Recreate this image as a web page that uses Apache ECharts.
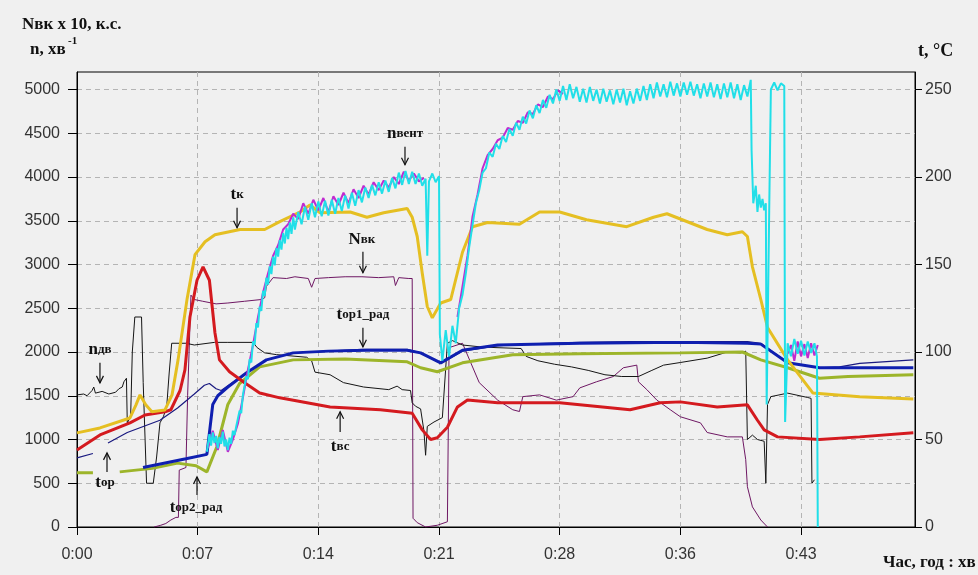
<!DOCTYPE html>
<html><head><meta charset="utf-8">
<script src="https://cdn.jsdelivr.net/npm/echarts@6/dist/echarts.min.js"></script>
<style>html,body{margin:0;padding:0;background:#f0f0f0}#c{width:978px;height:575px}</style>
</head><body><div id="c"></div>
<script>
// ---- axis ticks ----
const timeTicks = [0, 7.2, 14.4, 21.6, 28.8, 36, 43.2];
const timeTickLabels = ['0:00', '0:07', '0:14', '0:21', '0:28', '0:36', '0:43'];
const leftTicks = [0, 500, 1000, 1500, 2000, 2500, 3000, 3500, 4000, 4500, 5000];
const rightTicks = [0, 50, 100, 150, 200, 250];

// ---- series data: [minutes, value] ----
// tк (°C, right axis)
const tK = [[0,53.8],[1.37,56.6],[3.16,62.3],[3.52,69.8],[3.76,75.5],[4.1,69.8],[4.47,65.8],[5.25,66.9],[5.67,75.5],[6.03,95.5],[6.56,129.8],[7.04,155.6],[7.64,163],[8.23,167],[9.73,170],[11.2,170],[12.1,174.5],[13.3,180],[13.9,184],[14.5,179.6],[16.3,180],[17.3,177],[18.3,179.6],[19.7,182],[20.0,177],[20.3,166],[20.6,145],[20.9,126],[21.2,119.5],[21.7,128],[22.3,130],[23.0,157],[23.6,171.6],[24.5,174],[26.4,173],[27.6,180],[28.8,180],[30.4,175.6],[32.8,171.6],[34.4,177],[35.2,179],[37.6,170],[38.8,167],[39.7,168.7],[40.0,166],[40.3,148.7],[40.8,130],[41.2,114],[42.4,95.5],[43.9,76.6],[46.7,74.4],[49.9,73.2]];
// tвс (°C)
const tVs = [[0,44],[1.37,52.6],[3.16,59.5],[4.06,64],[5.25,65.8],[5.6,67],[6.15,78],[6.44,89.8],[6.74,120],[7.16,141],[7.52,148.7],[7.9,141],[8.23,111],[8.5,95.5],[9.1,88.7],[10.0,82.4],[10.9,76.6],[12.1,73.8],[15.1,68.6],[18.1,67],[20.0,65],[20.6,55.5],[21.1,50],[21.5,51],[22.1,57],[22.7,68.6],[23.3,72.6],[25.1,71],[28.8,71],[33,67],[34.8,71],[36,71.5],[38.2,68.6],[40,69.8],[40.6,61],[41,55.5],[41.8,51.5],[44.3,50],[46.7,51.5],[49.9,53.8]];
// tор (°C, thin)
const tOr = [[0,39.5],[0.95,42],[1.0,'-'],[1.85,48],[3.0,54],[4.95,61],[6.0,68],[7.0,76],[7.6,81],[7.9,82],[8.3,79],[8.6,78],[9.2,82],[10.1,88],[11.3,95.5],[12.9,99.5],[17,101.5],[19.7,101.5],[20.5,99.5],[21.7,93.5],[23,100.5],[25,103.5],[26.6,104.5],[30,105.5],[33,106],[36,106],[40,106],[40.8,105],[42.4,94],[44.3,91],[45.5,91.5],[46.7,93.5],[49.9,95.5]];
// tор1_рад (°C, thick blue)
const tOr1 = [[3.94,34],[6.5,39],[7.75,41.5],[8.1,70],[8.4,75],[9.0,80],[10.1,88],[11.3,95.5],[12.9,99.5],[15,100.5],[17.3,101],[19.7,101],[20.5,99.5],[21.7,93.8],[23,101],[25.1,104],[30,105],[36,105.5],[40,105],[40.8,104.5],[42.4,93.8],[44.3,91],[49.9,91]];
// tор2_рад (°C, olive)
const tOr2 = [[0,31],[0.95,31],[1.0,'-'],[2.55,31.5],[4.5,33.5],[6.0,36.5],[7.1,35],[7.75,31.5],[8.35,46],[9.0,70],[9.7,82],[10.9,91.5],[12.9,95.5],[16,96],[19.7,94.4],[20.5,91],[21.5,88.7],[23,93.8],[26,98.4],[30,99],[36,99.5],[39.7,100],[40.8,95.5],[42.4,91],[44.3,85],[46,86],[49.9,87]];
// nдв (rpm, left axis, thin black)
const nDv = [[0,1510],[0.4,1520],[0.6,1500],[0.9,1560],[1.0,1600],[1.1,1530],[1.5,1550],[1.9,1520],[2.3,1540],[2.5,1580],[2.7,1600],[2.8,1660],[2.95,1700],[3.0,1190],[3.2,1260],[3.3,2000],[3.45,2400],[3.85,2400],[3.95,1650],[4.15,500],[4.55,500],[4.75,800],[4.95,1190],[5.15,1260],[5.35,1370],[5.5,1760],[5.65,2100],[6.5,2100],[7.0,2080],[8.2,2110],[9.0,2110],[10.5,2110],[10.75,2050],[11.2,1990],[11.9,1970],[13.7,1940],[14.0,1900],[14.2,1770],[15.1,1740],[15.9,1650],[17.1,1600],[18.6,1570],[19.1,1610],[19.4,1570],[19.9,1560],[20.0,1420],[20.2,1380],[20.5,1350],[20.7,1100],[20.8,820],[20.9,1150],[21.3,1200],[21.8,1250],[22.1,2100],[22.4,2130],[23,2080],[24,2060],[25,2050],[26.5,2040],[26.8,1950],[27.5,1900],[28.5,1860],[29.5,1830],[30.5,1790],[31.5,1740],[32.5,1720],[33.5,1720],[34.3,1790],[35,1850],[36,1880],[37.6,1930],[38.8,2000],[39.6,1990],[39.9,2010],[40.0,1000],[40.3,1050],[40.6,1000],[41.0,980],[41.1,500],[41.2,1400],[41.4,1490],[42.4,1530],[43.6,1480],[43.8,1470],[43.85,500],[44.0,540]];
// Nвк x10 (left axis, thin purple)
const nVk = [[4.6,0],[5.0,20],[5.3,40],[5.6,80],[5.9,110],[6.05,110],[6.1,650],[6.5,680],[6.6,1500],[6.8,2650],[7.0,2600],[7.5,2580],[8.3,2550],[9.0,2560],[10.0,2580],[11.0,2600],[11.2,2620],[11.3,2750],[11.7,2850],[12.5,2840],[13.0,2860],[13.8,2840],[14.0,2740],[14.2,2840],[15.0,2850],[16.0,2860],[17.0,2860],[18.0,2850],[18.9,2860],[19.0,2760],[19.2,2850],[19.8,2840],[20.0,2840],[20.05,100],[20.3,50],[20.8,0],[21.5,20],[22.1,60],[22.2,2050],[23.0,2100],[24.0,1650],[25.1,1450],[26.0,1340],[26.4,1320],[26.6,1490],[27.6,1510],[28.6,1450],[29.6,1490],[30.0,1590],[31.0,1660],[32.0,1720],[32.6,1820],[33.4,1850],[33.5,1660],[34.0,1570],[34.6,1450],[35.4,1340],[36.0,1260],[37.2,1190],[37.6,1080],[38.8,1030],[39.7,1030],[39.9,770],[40.0,460],[40.3,230],[40.8,80],[41.2,0]];
// nвент (rpm, left axis, cyan noisy)
const nVent = [[7.75,860],[7.9,1060],[8.0,930],[8.1,1080],[8.2,960],[8.3,1040],[8.4,900],[8.5,1030],[8.6,950],[8.7,1090],[8.8,920],[8.9,1000],[9.0,880],[9.1,1020],[9.2,950],[9.3,1100],[9.4,1050],[9.5,1150],[9.6,1130],[9.7,1330],[9.8,1300],[9.9,1510],[10.0,1490],[10.1,1720],[10.2,1690],[10.3,1920],[10.4,1880],[10.5,2120],[10.6,2080],[10.7,2330],[10.8,2280],[10.9,2520],[11.0,2470],[11.1,2700],[11.2,2640],[11.3,2850],[11.4,2770],[11.5,2980],[11.6,2890],[11.7,3090],[11.8,2990],[11.9,3190],[12.0,3090],[12.1,3280],[12.2,3170],[12.3,3360],[12.4,3240],[12.5,3420],[12.6,3290],[12.7,3480],[12.8,3350],[12.9,3540],[13.0,3400],[13.2,3600],[13.4,3460],[13.6,3660],[13.8,3510],[14.0,3700],[14.2,3540],[14.4,3720],[14.6,3550],[14.8,3730],[15.0,3560],[15.2,3740],[15.4,3580],[15.6,3760],[15.8,3610],[16.0,3790],[16.2,3640],[16.4,3820],[16.6,3670],[16.8,3850],[17.0,3710],[17.2,3880],[17.4,3760],[17.6,3910],[17.8,3790],[18.0,3940],[18.2,3810],[18.4,3960],[18.6,3830],[18.8,3990],[19.0,3870],[19.2,4050],[19.4,3910],[19.6,4070],[19.8,3920],[20.0,4060],[20.2,3920],[20.4,4040],[20.6,3900],[20.8,3980],[20.9,3100],[21.0,3950],[21.2,4040],[21.4,3940],[21.6,4010],[21.65,2200],[21.8,1900],[22.0,2250],[22.2,1950],[22.4,2300],[22.6,2100],[22.8,2500],[23.0,2650],[23.2,2900],[23.4,3200],[23.6,3450],[23.8,3700],[24.0,3850],[24.2,4050],[24.4,4100],[24.6,4280],[24.8,4230],[25.0,4380],[25.2,4320],[25.4,4470],[25.6,4400],[25.8,4550],[26.0,4470],[26.2,4620],[26.4,4540],[26.6,4690],[26.8,4610],[27.0,4760],[27.2,4670],[27.4,4820],[27.6,4730],[27.8,4880],[28.0,4790],[28.2,4940],[28.4,4840],[28.6,5000],[28.8,4870],[29.0,5040],[29.2,4880],[29.4,5060],[29.6,4900],[29.8,5030],[30.0,4860],[30.2,5010],[30.4,4850],[30.6,5030],[30.8,4870],[31.0,5000],[31.2,4840],[31.4,5010],[31.6,4860],[31.8,4990],[32.0,4830],[32.2,5000],[32.4,4850],[32.6,5010],[32.8,4820],[33.0,4980],[33.2,4840],[33.4,5010],[33.6,4870],[33.8,5040],[34.0,4880],[34.2,5060],[34.4,4900],[34.6,5080],[34.8,4920],[35.0,5060],[35.2,4910],[35.4,5090],[35.6,4930],[35.8,5070],[36.0,4920],[36.2,5080],[36.4,4940],[36.6,5090],[36.8,4930],[37.0,5060],[37.2,4900],[37.4,5070],[37.6,4920],[37.8,5080],[38.0,4910],[38.2,5060],[38.4,4890],[38.6,5070],[38.8,4910],[39.0,5080],[39.2,4900],[39.4,5060],[39.6,4880],[39.8,5050],[40.0,4920],[40.2,5110],[40.25,4300],[40.35,3700],[40.5,3900],[40.6,3600],[40.7,3800],[40.8,3650],[40.9,3750],[41.0,3620],[41.1,3700],[41.15,1400],[41.3,3600],[41.4,5000],[41.6,5080],[41.8,4990],[42.0,5070],[42.2,5040],[42.25,1200],[42.4,2100],[42.6,1950],[42.8,2150],[43.0,1980],[43.2,2130],[43.4,1960],[43.6,2120],[43.8,1990],[44.0,2100],[44.15,1950],[44.2,0]];
// second fan-speed trace (magenta, under cyan)
const nVent2 = [[7.8,900],[8.1,1100],[8.4,880],[8.7,1110],[9.0,860],[9.3,1000],[9.6,1180],[9.9,1480],[10.2,1800],[10.5,2080],[10.8,2400],[11.1,2680],[11.4,2900],[11.7,3100],[12.0,3220],[12.3,3400],[12.6,3460],[12.9,3580],[13.2,3520],[13.5,3700],[13.8,3580],[14.1,3740],[14.4,3620],[14.7,3760],[15.0,3600],[15.3,3780],[15.6,3680],[15.9,3820],[16.2,3700],[16.5,3860],[16.8,3760],[17.1,3900],[17.4,3800],[17.7,3940],[18.0,3850],[18.3,3960],[18.6,3880],[18.9,4000],[19.2,3920],[19.5,4060],[19.8,3960],[20.1,4040],[20.4,3950],[20.7,3990],[21.0,'-'],[22.7,2400],[23.0,2750],[23.3,3100],[23.6,3550],[23.9,3800],[24.2,4100],[24.5,4250],[24.8,4320],[25.1,4420],[25.4,4450],[25.7,4560],[26.0,4540],[26.3,4640],[26.6,4620],[26.9,4740],[27.2,4720],[27.5,4830],[27.8,4800],[28.1,4920],[28.4,4890],[28.7,4990],[29.0,4950],[30,'-'],[42.4,1980],[42.6,2080],[42.8,1900],[43.0,2120],[43.2,1950],[43.4,2090],[43.6,1930],[43.8,2100],[44.0,1960],[44.2,2080]];

// annotation labels: text anchor and arrow (from -> to) in [minutes, left-axis units]
const annotations = [
  {main:'n', sub:'дв', text:[1.37,2025], from:[1.37,1876], to:[1.37,1647]},
  {main:'t', sub:'ор', text:[1.67,503], from:[1.79,629], to:[1.79,847]},
  {main:'t', sub:'ор2_рад', text:[7.1,217], from:[7.16,366], to:[7.16,572]},
  {main:'t', sub:'к', text:[9.55,3798], from:[9.55,3649], to:[9.55,3421]},
  {main:'n', sub:'вент', text:[19.57,4496], from:[19.57,4347], to:[19.57,4141]},
  {main:'N', sub:'вк', text:[17.0,3283], from:[17.06,3146], to:[17.06,2906]},
  {main:'t', sub:'ор1_рад', text:[17.06,2425], from:[17.06,2277], to:[17.06,2059]},
  {main:'t', sub:'вс', text:[15.7,915], from:[15.7,1087], to:[15.7,1316]}
];

const chart = echarts.init(document.getElementById('c'), null, {renderer:'canvas'});
const sans = 'Liberation Sans, Arial, sans-serif';
const serif = 'Liberation Serif, Times New Roman, serif';
function tickLabel(v){
  let best = 0;
  timeTicks.forEach((t,i)=>{ if (Math.abs(t-v) < Math.abs(timeTicks[best]-v)) best = i; });
  return timeTickLabels[best];
}
function line(name, data, color, width, yIdx, z){
  return {name, type:'line', data, yAxisIndex:yIdx, showSymbol:false, symbol:'none',
    connectNulls:false, z:z, lineStyle:{color, width}, itemStyle:{color}, animation:false};
}
chart.setOption({
  backgroundColor:'#f0f0f0',
  animation:false,
  grid:{left:77, right:63, top:72, bottom:48, show:true, borderColor:'#000', borderWidth:1, backgroundColor:'transparent'},
  xAxis:{type:'value', min:0, max:50, interval:7.2,
    axisLine:{show:true, onZero:false, lineStyle:{color:'#000'}},
    axisTick:{show:true, length:8, customValues:timeTicks, lineStyle:{color:'#000'}},
    axisLabel:{customValues:timeTicks, formatter:(v)=>tickLabel(v), margin:20, fontSize:16, color:'#333', fontFamily:sans},
    splitLine:{show:true, lineStyle:{color:'#b4b4b4', type:[5,4], width:1}}},
  yAxis:[
    {type:'value', min:0, max:5200, interval:500, position:'left',
      axisLine:{show:true, lineStyle:{color:'#000'}},
      axisTick:{show:true, length:9, customValues:leftTicks, lineStyle:{color:'#000'}},
      axisLabel:{customValues:leftTicks, formatter:(v)=>String(v), margin:17, fontSize:16, color:'#333', fontFamily:sans},
      splitLine:{show:true, lineStyle:{color:'#b4b4b4', type:[5,4], width:1}}},
    {type:'value', min:0, max:260, interval:50, position:'right',
      axisLine:{show:true, lineStyle:{color:'#000'}},
      axisTick:{show:true, length:7, customValues:rightTicks, lineStyle:{color:'#000'}},
      axisLabel:{customValues:rightTicks, formatter:(v)=>String(v), margin:10, fontSize:16, color:'#333', fontFamily:sans},
      splitLine:{show:false}}
  ],
  series:[
    line('Nвк', nVk, '#6e1763', 1, 0, 2),
    line('nдв', nDv, '#151515', 1, 0, 3),
    line('tор', tOr, '#1a1a80', 1.2, 1, 4),
    line('tор2_рад', tOr2, '#9db52a', 3, 1, 5),
    line('tор1_рад', tOr1, '#0f1fb0', 3, 1, 6),
    line('tвс', tVs, '#d41a1f', 3, 1, 7),
    line('tк', tK, '#e5bf22', 3, 1, 8),
    line('nвент2', nVent2, '#c02ad0', 2, 0, 9),
    line('nвент', nVent, '#20dfe8', 2, 0, 10)
  ],
  graphic:[
    {type:'text', left:22, top:16, style:{text:'Nвк x 10, к.с.', font:'bold 17px '+serif, fill:'#111'}},
    {type:'text', left:30, top:41, style:{text:'n, хв', font:'bold 17px '+serif, fill:'#111'}},
    {type:'text', left:68, top:36, style:{text:'-1', font:'bold 11px '+serif, fill:'#111'}},
    {type:'text', left:918, top:42, style:{text:'t, °C', font:'bold 18px '+serif, fill:'#111'}},
    {type:'text', left:883, top:554, style:{text:'Час, год : хв', font:'bold 17px '+serif, fill:'#111'}}
  ]
});

// annotations with arrows, positioned from data coordinates
const extra = [];
annotations.forEach(a=>{
  const p = chart.convertToPixel({xAxisIndex:0, yAxisIndex:0}, a.text);
  const f = chart.convertToPixel({xAxisIndex:0, yAxisIndex:0}, a.from);
  const t = chart.convertToPixel({xAxisIndex:0, yAxisIndex:0}, a.to);
  extra.push({type:'text', x:p[0], y:p[1], z:50, style:{
    text:'{m|'+a.main+'}{s|'+a.sub+'}', align:'center', verticalAlign:'middle',
    rich:{m:{font:'bold 17px '+serif, fill:'#111'}, s:{font:'bold 13px '+serif, fill:'#111'}}}});
  const dir = t[1] > f[1] ? -1 : 1;
  extra.push({type:'polyline', z:50, shape:{points:[f,t]}, style:{stroke:'#111', lineWidth:1.2, fill:null}});
  extra.push({type:'polyline', z:50, shape:{points:[[t[0]-3.5,t[1]+dir*7],[t[0],t[1]],[t[0]+3.5,t[1]+dir*7]]}, style:{stroke:'#111', lineWidth:1.2, fill:null}});
});
chart.setOption({graphic: chart.getOption().graphic[0].elements.concat(extra)});
</script>
</body></html>
